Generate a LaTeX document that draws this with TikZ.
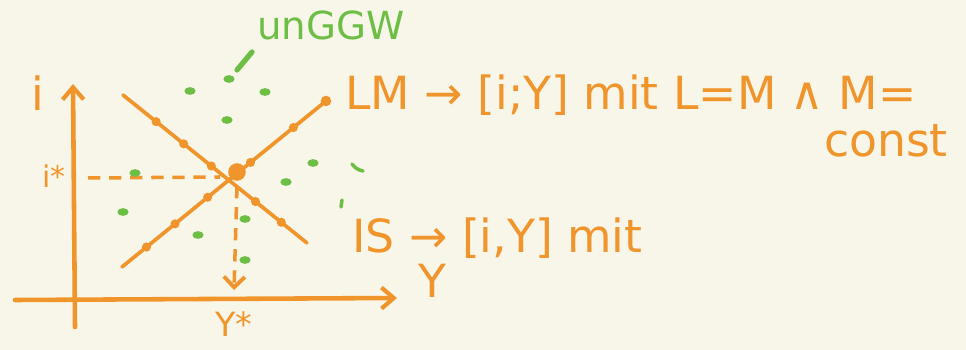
\documentclass[tikz,border=0pt]{standalone}
\usepackage{fontspec}
\setmainfont{DejaVu Sans}
\usetikzlibrary{arrows.meta,calc}
\definecolor{bgc}{HTML}{F8F5E9}
\definecolor{org}{HTML}{F0952B}
\definecolor{grn}{HTML}{6CBE45}
\tikzset{
  axis/.style={draw=org, line width=2.6pt, line cap=round, -{Straight Barb[length=7pt,width=12pt,line width=2.4pt]}},
  curve/.style={draw=org, line width=2.1pt, line cap=round},
  guide/.style={draw=org, line width=2pt, dash pattern=on 7pt off 5pt},
  lbl/.style={text=org, font=\fontsize{26}{30}\selectfont, inner sep=0pt},
  slbl/.style={text=org, font=\fontsize{17}{20}\selectfont, inner sep=0pt},
  gdot/.style={fill=grn, draw=none},
  tick/.style={fill=org, draw=none}
}
\begin{document}
\begin{tikzpicture}[x=0.02cm, y=-0.02cm]
\fill[bgc] (0,0) rectangle (966,350);
\useasboundingbox (0,0) rectangle (966,350);
% axes
\coordinate (o1) at (75,327);
\coordinate (itop) at (73,84);
\coordinate (o2) at (15,300);
\coordinate (yend) at (397,298);
\draw[axis] (o1) -- (itop);
\draw[axis] (o2) -- (yend);
% IS and LM
\coordinate (is1) at (123,95);
\coordinate (is2) at (307,243);
\coordinate (lm1) at (122,267);
\coordinate (lm2) at (326,101);
\coordinate (eq) at (237,172);
\draw[curve] (is1) -- (is2);
\draw[curve] (lm1) -- (lm2);
\fill[org] (eq) circle (5pt);
% ticks on lines
\foreach \t in {0.18,0.33,0.48,0.72,0.86} \fill[tick] ($(is1)!\t!(is2)$) circle (2.6pt);
\foreach \t in {0.12,0.26,0.42,0.63,0.84} \fill[tick] ($(lm1)!\t!(lm2)$) circle (2.6pt);
\fill[tick] (lm2) circle (3pt);
% guides
\coordinate (h1) at (88,178);
\coordinate (h2) at (220,177);
\coordinate (v1) at (237,186);
\coordinate (v2) at (234,290);
\draw[guide] (h1) -- (h2);
\draw[guide, -{Straight Barb[length=6pt,width=12pt,line width=2.2pt]}] (v1) -- (v2);
% labels
\node[lbl] (li) at (38,93) {i};
\node[lbl] (ly) at (432,281) {Y};
\node[slbl] (listar) at (54,176) {i*};
\node[slbl, font=\fontsize{19}{22}\selectfont] (lystar) at (234,324) {Y*};
\node[lbl, anchor=west] (lmtxt) at (345,95) {LM → [i;Y] mit L=M ∧ M=};
\node[lbl] (const) at (886,141) {const};
\node[lbl, anchor=west] (istxt) at (352,238) {IS → [i,Y] mit};
\node[lbl, text=grn, font=\fontsize{22}{26}\selectfont] (ungg) at (331,25) {unGGW};
% green marks
\draw[grn, line width=3pt, line cap=round] (252,52) -- (237,70);
\foreach \p in {(229,79),(190,91),(265,92),(227,120),(313,163),(286,182),(135,173),(123,212),(198,235),(245,219),(245,260)}
  \fill[gdot] \p ellipse (3.2pt and 2.2pt);
\draw[grn, line width=2pt, line cap=round] (352,164) to[bend right=20] (363,171);
\draw[grn, line width=2pt, line cap=round] (342,200) -- (341,207);
\end{tikzpicture}
\end{document}
